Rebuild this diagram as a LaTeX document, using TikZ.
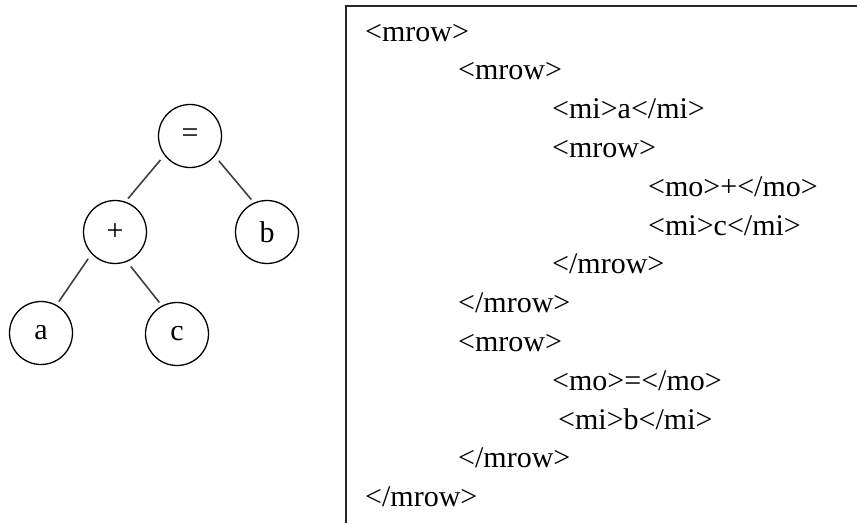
\documentclass[tikz,border=0pt]{standalone}
\usepackage{fontspec}
\setmainfont{Liberation Serif}
\begin{document}
\begin{tikzpicture}[x=1pt,y=-1pt,
  tnode/.style={circle,draw,line width=1.3pt,minimum size=63pt,inner sep=0pt,font=\fontsize{30}{34}\selectfont},
  tedge/.style={draw=black!75,line width=1.6pt,shorten <=6pt,shorten >=4pt},
  code/.style={anchor=base west,inner sep=0pt,font=\fontsize{30}{34}\selectfont}]
\useasboundingbox (0,0) rectangle (857,523);
% tree
\node[tnode] (eq) at (190,136) {=};
\node[tnode] (plus) at (115,232) {+};
\node[tnode] (b) at (267,232) {b};
\node[tnode] (a) at (41,333) {a};
\node[tnode] (c) at (177,334) {c};
\draw[tedge] (eq.217) -- (plus.71);
\draw[tedge] (eq.321) -- (b.114);
\draw[tedge] (plus.223) -- (a.61);
\draw[tedge] (plus.292) -- (c.118);
% box
\coordinate (boxtl) at (346,6);
\coordinate (boxtr) at (857,6);
\coordinate (boxbl) at (346,523);
\draw[line width=1.8pt,black!85] (boxbl) -- (boxtl) -- (boxtr);
% code lines
\node[code] (l1) at (365,41) {<mrow>};
\node[code] (l2) at (458,79.8) {<mrow>};
\node[code] (l3) at (552,118.6) {<mi>a</mi>};
\node[code] (l4) at (552,157.4) {<mrow>};
\node[code] (l5) at (648,196.2) {<mo>+</mo>};
\node[code] (l6) at (648,235) {<mi>c</mi>};
\node[code] (l7) at (552,273.8) {</mrow>};
\node[code] (l8) at (458,312.6) {</mrow>};
\node[code] (l9) at (458,351.4) {<mrow>};
\node[code] (l10) at (552,390.2) {<mo>=</mo>};
\node[code] (l11) at (558,429) {<mi>b</mi>};
\node[code] (l12) at (458,467.8) {</mrow>};
\node[code] (l13) at (365,506.6) {</mrow>};
\end{tikzpicture}
\end{document}
